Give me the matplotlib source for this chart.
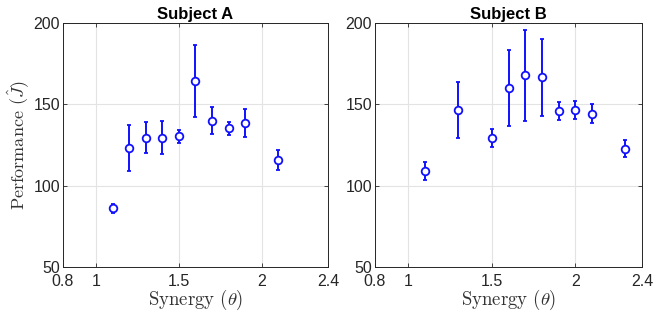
import matplotlib
matplotlib.use("Agg")
import matplotlib.pyplot as plt

plt.rcParams['font.family'] = ['Liberation Sans', 'DejaVu Sans']
plt.rcParams['mathtext.fontset'] = 'cm'

# Subject A
theta_a = [1.1, 1.2, 1.3, 1.4, 1.5, 1.6, 1.7, 1.8, 1.9, 2.1]
perf_a = [86, 123, 129.5, 129.5, 130.5, 164.5, 140, 135.2, 138.7, 115.8]
err_a = [2.5, 14, 9.6, 10, 4, 22, 8.3, 4, 8.7, 6]

# Subject B
theta_b = [1.1, 1.3, 1.5, 1.6, 1.7, 1.8, 1.9, 2.0, 2.1, 2.3]
perf_b = [109, 146.5, 129.2, 160, 167.8, 166.6, 145.7, 146.6, 144.3, 122.6]
err_b = [5.7, 17, 5.5, 23.4, 27.8, 23.5, 5.5, 5.7, 6, 5.2]

xticks = [0.8, 1, 1.5, 2, 2.4]
xticklabels = ['0.8', '1', '1.5', '2', '2.4']
yticks = [50, 100, 150, 200]

fig = plt.figure(figsize=(6.54, 3.22), dpi=100)
ax1 = fig.add_axes([63 / 654, 1 - 267 / 322, 265 / 654, 244 / 322])
ax2 = fig.add_axes([375 / 654, 1 - 267 / 322, 267 / 654, 244 / 322])

data = [(ax1, theta_a, perf_a, err_a, 'Subject A'),
        (ax2, theta_b, perf_b, err_b, 'Subject B')]

for ax, x, y, e, title in data:
    ax.errorbar(x, y, yerr=e, fmt='o', color='#1010ff', ecolor='#1010ff',
                markerfacecolor='white', markeredgecolor='#1010ff',
                markersize=5.5, markeredgewidth=1.3, elinewidth=1.4,
                capsize=1.2, capthick=1.8, zorder=3)
    ax.set_xlim(0.8, 2.4)
    ax.set_ylim(50, 200)
    ax.set_xticks(xticks)
    ax.set_xticklabels(xticklabels)
    ax.set_yticks(yticks)
    ax.grid(True, color='#e3e3e3', linewidth=0.8)
    ax.set_axisbelow(True)
    ax.tick_params(direction='in', length=3, labelsize=11.5, colors='#262626',
                   width=0.6, top=True, right=True)
    ax.tick_params(axis='y', pad=2)
    ax.tick_params(axis='x', pad=5)
    for s in ax.spines.values():
        s.set_color('#262626')
        s.set_linewidth(0.7)
    ax.set_title(title, fontsize=12, fontweight='bold', pad=3)
    ax.set_xlabel(r'Synergy ($\theta$)', fontsize=13.5, fontfamily='cmr10',
                  color='#333333', labelpad=-1)

ax1.set_ylabel(r'Performance ($\hat{J}$)', fontsize=13, fontfamily='cmr10',
               color='#333333', labelpad=2)

fig.savefig('out.png', dpi=100)
